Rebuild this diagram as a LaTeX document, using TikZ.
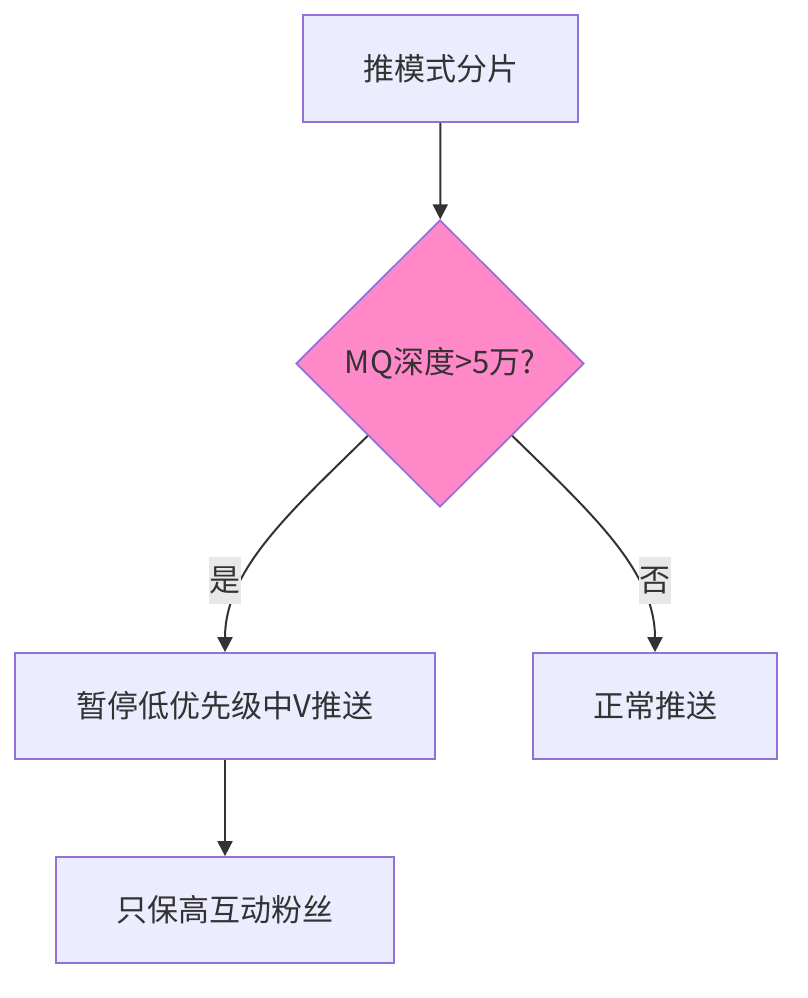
\documentclass[tikz,border=0pt]{standalone}
\usepackage{fontspec}
\setmainfont{Noto Sans CJK SC}
\usetikzlibrary{shapes.geometric,arrows.meta}
\definecolor{boxfill}{HTML}{ECECFF}
\definecolor{boxline}{HTML}{9370DB}
\definecolor{pinkfill}{HTML}{FF88C8}
\definecolor{edgecol}{HTML}{333333}
\definecolor{lblbg}{HTML}{E8E8E8}
\definecolor{txt}{HTML}{333333}
\tikzset{
  procbox/.style={draw=boxline, fill=boxfill, line width=1.7pt, inner sep=0pt, text=txt, font=\fontsize{31}{34}\selectfont},
  decide/.style={diamond, draw=boxline, fill=pinkfill, line width=1.7pt, inner sep=0pt, minimum width=288pt, minimum height=287pt, text=txt, font=\fontsize{31}{34}\selectfont},
  edgelbl/.style={fill=lblbg, inner sep=0pt, minimum width=32pt, minimum height=47pt, text=txt, font=\fontsize{31}{34}\selectfont},
  flow/.style={draw=edgecol, line width=2pt, -{Triangle[length=15pt,width=15pt]}}
}
\begin{document}
\begin{tikzpicture}[x=1pt,y=-1pt]
\useasboundingbox (0,0) rectangle (808,998);
\node[procbox, minimum width=275pt, minimum height=107pt] (a) at (440.5,68.5) {推模式分片};
\node[decide] (d) at (440,363.5) {MQ深度>5万?};
\node[procbox, minimum width=420pt, minimum height=106pt] (b) at (225,706) {暂停低优先级中V推送};
\node[procbox, minimum width=244pt, minimum height=106pt] (c) at (655,706) {正常推送};
\node[procbox, minimum width=338pt, minimum height=106pt] (e) at (225,910) {只保高互动粉丝};
\draw[flow] (a) -- (d);
\draw[flow] (d.225) .. controls (290,512) and (225,570) .. (b.north);
\draw[flow] (d.315) .. controls (590,512) and (655,570) .. (c.north);
\draw[flow] (b) -- (e);
\node[edgelbl] (ly) at (225,580.5) {是};
\node[edgelbl] (ln) at (654.5,580.5) {否};
\end{tikzpicture}
\end{document}
